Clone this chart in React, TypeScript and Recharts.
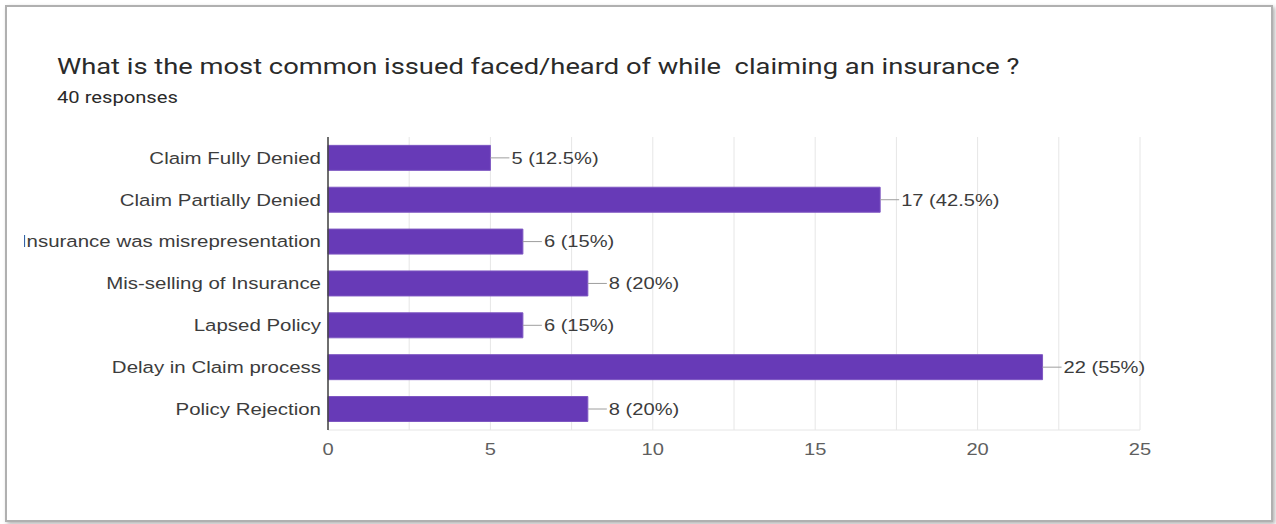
import { BarChart, Bar, XAxis, YAxis, CartesianGrid, LabelList } from "recharts";

const categories = [
  "Claim Fully Denied",
  "Claim Partially Denied",
  "Insurance was misrepresentation",
  "Mis-selling of Insurance",
  "Lapsed Policy",
  "Delay in Claim process",
  "Policy Rejection",
];
const counts = [5, 17, 6, 8, 6, 22, 8];
const percents = ["12.5%", "42.5%", "15%", "20%", "15%", "55%", "20%"];
const gridTicks = [0, 2.5, 5, 7.5, 10, 12.5, 15, 17.5, 20, 22.5, 25];

const data = categories.map((name, i) => ({
  name,
  value: counts[i],
  label: `${counts[i]} (${percents[i]})`,
}));

const FONT = "'Liberation Sans', Arial, sans-serif";
// the screenshot is stretched sideways a bit
const STRETCH = 1.22;

const CategoryTick = (props: any) => {
  const { x, y, payload } = props;
  return (
    <text
      transform={`translate(${x},${y}) scale(1.24,1)`}
      textAnchor="end"
      dominantBaseline="central"
      fill="#3c3c3c"
      fontSize={16.5}
      fontFamily={FONT}
    >
      {payload.value}
    </text>
  );
};

const ValueTick = (props: any) => {
  const { x, y, payload } = props;
  if (payload.value % 5 !== 0) return null;
  return (
    <text
      transform={`translate(${x},${y}) scale(${STRETCH},1)`}
      textAnchor="middle"
      dy="0.71em"
      fill="#5f5f5f"
      fontSize={16.5}
      fontFamily={FONT}
    >
      {payload.value}
    </text>
  );
};

// line + text after the end of each bar
const BarEndLabel = (props: any) => {
  const { x, y, width, height, index } = props;
  const endX = x + width;
  const midY = y + height / 2;
  return (
    <g>
      <line x1={endX} y1={midY} x2={endX + 19} y2={midY} stroke="#9e9e9e" strokeWidth={1} />
      <text
        transform={`translate(${endX + 21},${midY}) scale(${STRETCH},1)`}
        dominantBaseline="central"
        fill="#3c3c3c"
        fontSize={16.5}
        fontFamily={FONT}
      >
        {data[index].label}
      </text>
    </g>
  );
};

export default function App() {
  return (
    <div
      style={{
        position: "absolute",
        left: 0,
        top: 0,
        width: 1276,
        height: 524,
        background: "#fff",
        overflow: "hidden",
      }}
    >
      {/* frame */}
      <div
        style={{
          position: "absolute",
          left: 5,
          top: 5,
          width: 1268,
          height: 517,
          boxSizing: "border-box",
          border: "2px solid #b0b0b0",
          boxShadow: "2px 2px 4px rgba(0,0,0,0.3)",
        }}
      />
      <div
        style={{
          position: "absolute",
          left: 57,
          top: 54,
          fontFamily: "Roboto, sans-serif",
          fontSize: 21.5,
          lineHeight: "26px",
          color: "#2a2a2a",
          whiteSpace: "pre",
          transform: "scaleX(1.27)",
          transformOrigin: "left top",
        }}
      >
        What is the most common issued faced/heard of while  claiming an insurance ?
      </div>
      <div
        style={{
          position: "absolute",
          left: 57,
          top: 88,
          fontFamily: "Roboto, sans-serif",
          fontSize: 16,
          lineHeight: "20px",
          color: "#2a2a2a",
          transform: "scaleX(1.26)",
          transformOrigin: "left top",
        }}
      >
        40 responses
      </div>
      <div style={{ position: "absolute", left: 24, top: 0, width: 1246, height: 500, overflow: "hidden" }}>
        <BarChart
          width={1246}
          height={500}
          data={data}
          layout="vertical"
          margin={{ top: 137, right: 130, bottom: 30, left: 0 }}
          barCategoryGap="20%"
        >
          <CartesianGrid horizontal={false} stroke="#e6e6e6" />
          <XAxis
            type="number"
            domain={[0, 25]}
            ticks={gridTicks}
            axisLine={{ stroke: "#e6e6e6" }}
            tickLine={false}
            tickSize={0}
            tickMargin={13}
            tick={<ValueTick />}
            interval={0}
            height={40}
          />
          <XAxis
            xAxisId="top"
            orientation="top"
            type="number"
            domain={[0, 25]}
            axisLine={{ stroke: "#e6e6e6" }}
            tick={false}
            tickLine={false}
            height={0}
          />
          <YAxis
            type="category"
            dataKey="name"
            width={304}
            axisLine={{ stroke: "#424242", strokeWidth: 1.5 }}
            tickLine={false}
            tickSize={0}
            tickMargin={7}
            interval={0}
            tick={<CategoryTick />}
          />
          <Bar dataKey="value" fill="#673ab7" stroke="#7e57c2" strokeWidth={1} isAnimationActive={false}>
            <LabelList dataKey="value" content={BarEndLabel} />
          </Bar>
        </BarChart>
      </div>
    </div>
  );
}
